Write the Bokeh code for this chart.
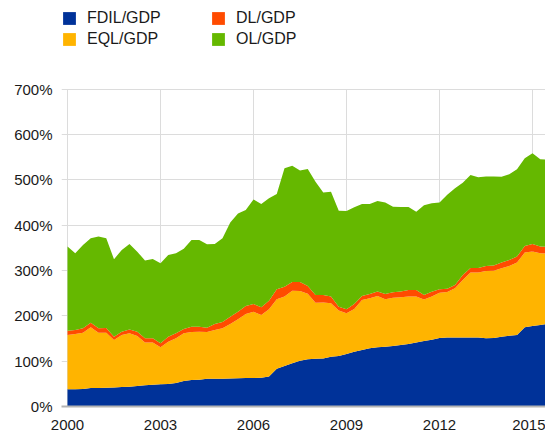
from bokeh.plotting import figure
from bokeh.models import (Legend, LegendItem, FixedTicker, PrintfTickFormatter,
                          Range1d, ColumnDataSource)
from bokeh.embed import file_html
from bokeh.resources import INLINE

# Quarterly observations, 2000Q1 .. 2015Q3
quarters = [f"{y}Q{q}" for y in range(2000, 2016) for q in range(1, 5)][:63]

# Liabilities as % of GDP (stack components, bottom to top)
fdil = [38, 38, 38.5, 41, 41, 41.5, 42, 43, 43.7, 45, 46.7, 48, 49, 49.7, 51.9, 56,
        58.5, 59, 61, 61, 61, 62, 62.5, 63, 63, 63.5, 66, 83.5, 89.4, 95.3, 101, 104,
        105.6, 106, 110, 111.5, 116, 121, 124.7, 128.4, 130.6, 131.8, 133.6, 135.8, 138, 141,
        144.5, 147.5, 151, 152.5, 152.5, 152.5, 152.5, 152, 150.5, 151, 154, 156, 157.8, 174.8,
        177.7, 180, 182]
eql = [120, 122, 124.5, 134, 122, 121.5, 105, 115, 117.9, 110.6, 94.3, 93, 81.7, 93.3, 98.6, 105.5,
       106, 106, 103.5, 108, 111.6, 120, 129.9, 141, 146, 138.5, 148.5, 153.1, 153.1, 160.3, 154, 145,
       123.4, 123.5, 117.7, 100.1, 89.6, 94, 110.3, 110.4, 113.4, 104.8, 106.4, 105.2, 104.5, 101.5,
       91.5, 95, 100, 100, 108.3, 126.5, 143, 143.5, 148.5, 148.4, 151, 154, 159.7, 164.8,
       164.1, 158, 155]
dl = [9, 9, 9.6, 10, 9.6, 10, 7, 7, 8.4, 9.4, 9.5, 9.5, 8.8, 11, 11.1, 9.5,
      11.5, 11, 9.5, 13, 13.9, 16, 16.6, 18, 17, 17, 19.1, 22, 22, 19.2, 19.5, 17,
      17, 16.5, 14.8, 8.4, 8.9, 11, 9, 9.2, 9.5, 11.4, 12, 12.7, 14.5, 14.5,
      10, 10.5, 7.6, 7.1, 7.2, 11, 10.2, 10.2, 11, 11.6, 12.5, 13.4, 13.3, 14.7,
      16.9, 14.8, 15]
ol = [186, 169, 183.9, 186, 202.4, 198, 171, 180.5, 188.7, 176.7, 171.5, 175.1, 176.5, 180.4, 176.4, 177,
      191.5, 191.5, 184, 176.5, 184.5, 207.8, 217, 211.8, 231, 228, 225.9, 210.4, 261.2, 256.2, 246.1, 258,
      250, 226, 231.5, 212, 217.1, 213.6, 203, 199, 200.1, 202, 189, 186.3, 183, 173,
      198, 195.5, 191.4, 207.4, 213.6, 204, 205.3, 200.3, 197.4, 196.4, 189.5, 189.1, 192.7, 193.5,
      200.1, 192.8, 193]

series_names = ["FDIL/GDP", "EQL/GDP", "DL/GDP", "OL/GDP"]
colors = ["#003299", "#FFB400", "#FF4B00", "#65B800"]
year_ticks = [2000, 2003, 2006, 2009, 2012, 2015]
pct_ticks = [0, 100, 200, 300, 400, 500, 600, 700]

x = [int(q[:4]) + (int(q[5]) - 1) / 4 for q in quarters]
source = ColumnDataSource(dict(x=x, FDIL=fdil, EQL=eql, DL=dl, OL=ol))

FONT = "Liberation Sans"

# layout geometry (pixels)
W, H = 545, 432
FRAME_LEFT, BOTTOM = 61, 25
PX_PER_YEAR = 31.0
PLOT_TOP_PX = 89            # where the 700% line sits
frame_w = W - FRAME_LEFT
frame_h = H - BOTTOM
x0 = year_ticks[0] - (67 - FRAME_LEFT) / PX_PER_YEAR
y_top = pct_ticks[-1] * frame_h / (frame_h - PLOT_TOP_PX)

p = figure(width=W, height=H, output_backend="svg", toolbar_location=None,
           x_range=Range1d(x0, x0 + frame_w / PX_PER_YEAR),
           y_range=Range1d(0, y_top),
           min_border_left=FRAME_LEFT, min_border_right=0, min_border_top=0,
           min_border_bottom=BOTTOM, background_fill_color="white",
           border_fill_color="white")
p.outline_line_color = None

# vertical grid lines only up to the 700% line
p.segment(x0=year_ticks, y0=[0] * len(year_ticks), x1=year_ticks,
          y1=[pct_ticks[-1]] * len(year_ticks), line_color="#dcdcdc", line_width=1)

rs = p.varea_stack(["FDIL", "EQL", "DL", "OL"], x="x", color=colors, source=source)

# grid
p.xgrid.visible = False
p.ygrid.ticker = FixedTicker(ticks=pct_ticks)
p.ygrid.grid_line_color = "#dcdcdc"
p.ygrid.grid_line_width = 1
p.ygrid.level = "underlay"

# axes
p.xaxis.ticker = FixedTicker(ticks=year_ticks)
p.yaxis.ticker = FixedTicker(ticks=pct_ticks)
p.yaxis.formatter = PrintfTickFormatter(format="%d%%")
for ax in (p.xaxis, p.yaxis):
    ax.major_tick_line_color = None
    ax.minor_tick_line_color = None
    ax.major_label_text_font = FONT
    ax.major_label_text_font_size = "15px"
    ax.major_label_text_color = "#1a1a1a"
p.yaxis.axis_line_color = None
p.yaxis.major_label_standoff = 3
p.xaxis.axis_line_color = "#b4b4b4"
p.xaxis.axis_line_width = 2
p.xaxis.major_label_standoff = 7

# legend: row 1 FDIL, DL ; row 2 EQL, OL
order = [0, 2, 1, 3]
items = [LegendItem(label=series_names[i], renderers=[rs[i]]) for i in order]
legend = Legend(items=items, orientation="horizontal", ncols=2,
                location=(0, frame_h - 50), glyph_width=16, glyph_height=16,
                label_standoff=10, label_width=122, label_height=20, spacing=1,
                padding=0, margin=0, border_line_color=None,
                background_fill_alpha=0,
                label_text_font=FONT, label_text_font_size="16px",
                label_text_color="#1a1a1a")
p.add_layout(legend, "center")

open("out.html", "w").write(file_html(p, INLINE))
